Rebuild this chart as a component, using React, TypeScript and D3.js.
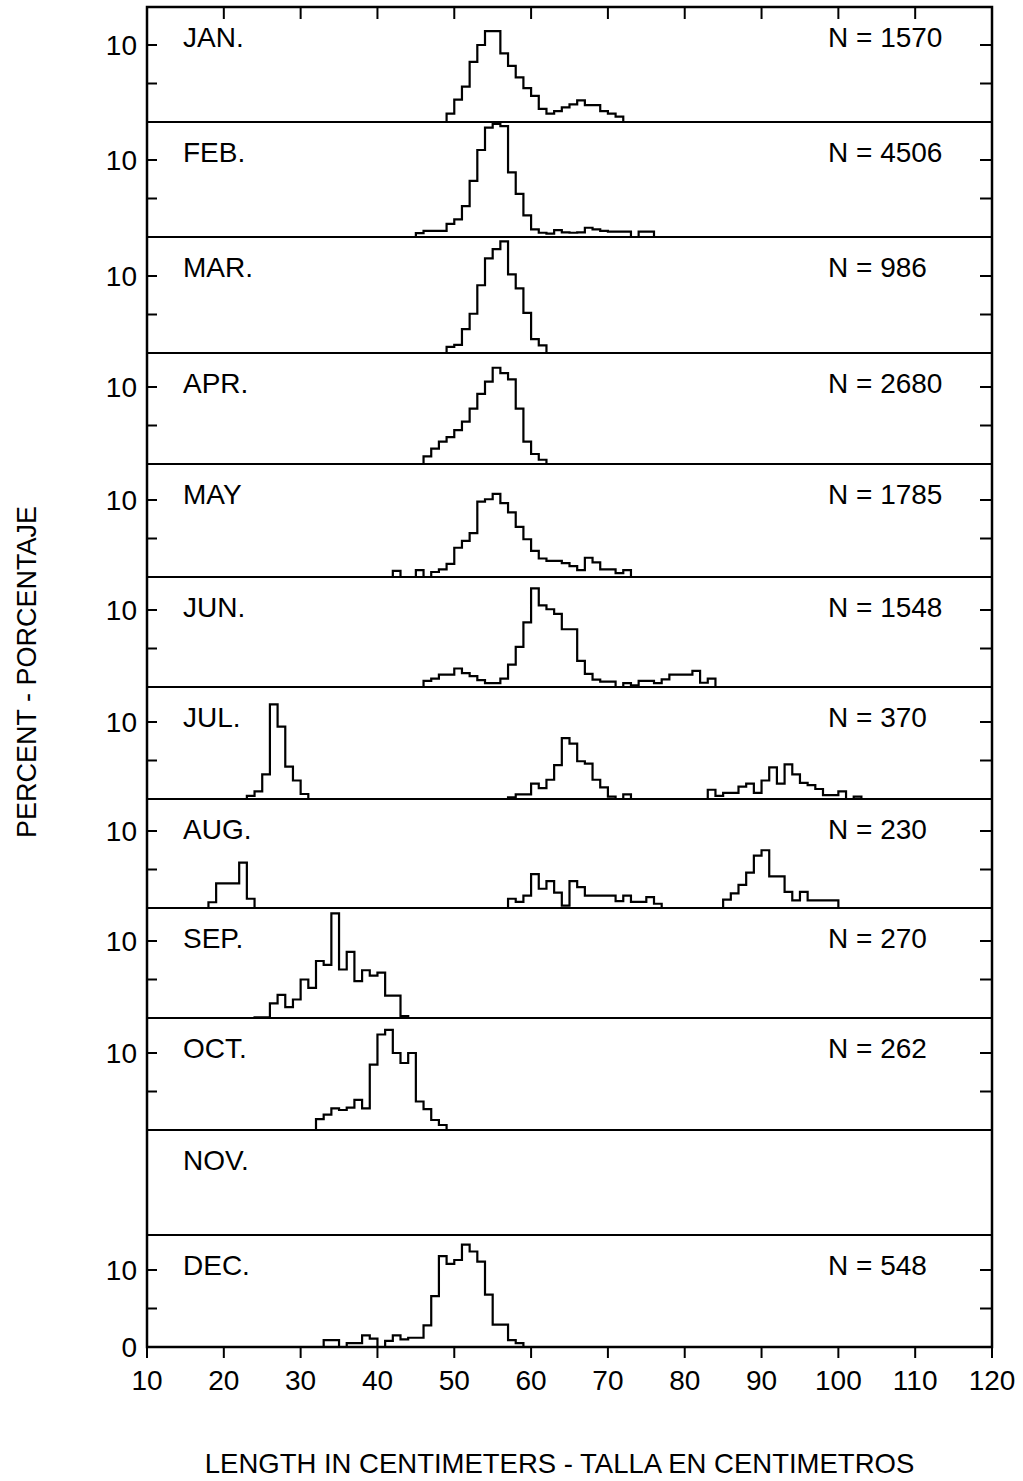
import React from 'react';
import * as d3 from 'd3';

// monthly length-frequency histograms, percent per 1 cm class
const MONTHS = ['JAN.', 'FEB.', 'MAR.', 'APR.', 'MAY', 'JUN.', 'JUL.', 'AUG.', 'SEP.', 'OCT.', 'NOV.', 'DEC.'];
const SAMPLE_SIZES = [1570, 4506, 986, 2680, 1785, 1548, 370, 230, 270, 262, null, 548];

const JAN = [
  { start: 49, pct: [1.1, 2.9, 4.6, 7.8, 10.0, 11.8, 11.8, 8.9, 7.3, 5.8, 4.4, 3.4, 1.7, 1.1, 1.4, 1.9, 2.3, 2.8, 2.2, 2.2, 1.4, 1.1, 0.7] },
];
const FEB = [
  { start: 45, pct: [0.5, 0.8, 0.8, 0.8, 1.7, 2.3, 4.0, 7.3, 11.3, 14.2, 14.7, 14.4, 8.4, 5.6, 2.8, 1.0, 0.55, 0.45, 0.9, 0.6, 0.55, 0.6, 1.2, 1.0, 0.8, 0.7, 0.7, 0.7, 0, 0.7, 0.7] },
];
const MAR = [
  { start: 49, pct: [0.8, 1.05, 3.1, 5.1, 8.8, 12.3, 13.5, 14.5, 10.2, 8.4, 5.2, 1.8, 1.0] },
];
const APR = [
  { start: 46, pct: [1.0, 2.0, 2.9, 3.5, 4.4, 5.5, 7.2, 9.1, 10.7, 12.5, 11.8, 11.0, 7.2, 2.9, 1.3, 0.55] },
];
const MAY = [
  { start: 42, pct: [0.8, 0, 0, 0.9, 0, 0.65, 1.0, 1.7, 3.8, 4.7, 5.7, 9.8, 10.1, 10.8, 9.6, 8.4, 6.5, 4.9, 3.4, 2.4, 2.1, 2.1, 1.8, 1.4, 0.9, 2.5, 1.9, 1.0, 1.0, 0.5, 0.9] },
];
const JUN = [
  { start: 46, pct: [0.8, 1.1, 1.6, 1.6, 2.4, 1.8, 1.4, 0.9, 0.5, 0.5, 1.1, 2.9, 5.2, 8.4, 12.8, 10.6, 10.1, 9.5, 7.5, 7.5, 3.4, 1.7, 0.95, 0.7, 0.7, 0, 0.5, 0.2, 0.8, 0.8, 0.5, 1.0, 1.6, 1.6, 1.6, 2.1, 0.55, 1.1] },
];
const JUL = [
  { start: 23, pct: [0.4, 1.0, 3.2, 12.3, 9.4, 4.2, 2.4, 0.65] },
  { start: 57, pct: [0.2, 0.6, 0.6, 2.0, 1.4, 2.5, 4.4, 7.9, 7.2, 4.9, 4.6, 2.5, 1.5, 0.3, 0, 0.6] },
  { start: 83, pct: [1.2, 0.4, 0.8, 0.8, 1.6, 2.0, 0.8, 2.4, 4.1, 2.0, 4.5, 3.2, 2.1, 1.8, 1.3, 0.5, 0.5, 1.0, 0, 0.3] },
];
const AUG = [
  { start: 18, pct: [0.75, 3.2, 3.2, 3.2, 5.9, 1.2] },
  { start: 57, pct: [1.2, 0.8, 1.6, 4.4, 2.5, 3.5, 2.0, 0.3, 3.5, 2.7, 1.6, 1.6, 1.6, 1.6, 0.9, 1.6, 0.8, 0.8, 1.4, 0.55] },
  { start: 85, pct: [1.1, 1.9, 3.0, 4.6, 6.8, 7.5, 4.1, 4.1, 2.1, 1.0, 2.1, 1.0, 1.0, 1.0, 1.0] },
];
const SEP = [
  { start: 24, pct: [0.1, 0.1, 1.9, 3.0, 1.4, 2.4, 5.0, 3.9, 7.4, 6.9, 13.6, 6.3, 8.6, 4.8, 6.2, 5.5, 5.9, 2.9, 2.9, 0.25] },
];
const OCT = [
  { start: 32, pct: [1.4, 2.0, 2.8, 2.6, 2.9, 3.9, 2.8, 8.5, 12.4, 13.0, 10.0, 8.7, 10.0, 3.7, 2.7, 1.3, 0.65] },
];
const NOV: { start: number; pct: number[] }[] = [];
const DEC = [
  { start: 33, pct: [0.9, 0.9, 0, 0.5, 0.5, 1.5, 1.1, 0, 0.8, 1.5, 1.0, 1.2, 1.2, 2.8, 6.6, 11.8, 10.8, 11.3, 13.3, 12.4, 11.1, 6.8, 2.9, 2.9, 0.9, 0.5] },
];

const SERIES = [JAN, FEB, MAR, APR, MAY, JUN, JUL, AUG, SEP, OCT, NOV, DEC];

const X_TICKS = [10, 20, 30, 40, 50, 60, 70, 80, 90, 100, 110, 120];
const Y_TICKS = [5, 10];

const X_TITLE = 'LENGTH IN CENTIMETERS - TALLA EN CENTIMETROS';
const Y_TITLE = 'PERCENT - PORCENTAJE';

// layout
const W = 1023;
const H = 1481;
const LEFT = 147;
const RIGHT = 992;
const PANEL_EDGES = [7, 122, 237, 353, 464, 577, 687, 799, 908, 1018, 1130, 1235, 1347];
const PX_PER_TEN = 77;
const FONT = "'Liberation Sans', Arial, Helvetica, sans-serif";

const App = () => {
  const x = d3.scaleLinear().domain([10, 120]).range([LEFT, RIGHT]);
  const top = PANEL_EDGES[0];
  const bottom = PANEL_EDGES[PANEL_EDGES.length - 1];

  return (
    <svg
      width={W}
      height={H}
      style={{ position: 'absolute', left: 0, top: 0, background: '#fff' }}
      fontFamily={FONT}
    >
      <rect width={W} height={H} fill="#fff" />

      {MONTHS.map((m, i) => {
        const pTop = PANEL_EDGES[i];
        const pBot = PANEL_EDGES[i + 1];
        const y = d3.scaleLinear().domain([0, 10]).range([pBot, pBot - PX_PER_TEN]);
        const line = d3
          .line<[number, number]>()
          .x((d) => x(d[0]))
          .y((d) => y(d[1]));
        const hasData = SERIES[i].length > 0;

        return (
          <g key={m}>
            {SERIES[i].map((seg, k) => {
              const pts: [number, number][] = [[seg.start, 0]];
              seg.pct.forEach((v, j) => {
                pts.push([seg.start + j, v]);
                pts.push([seg.start + j + 1, v]);
              });
              pts.push([seg.start + seg.pct.length, 0]);
              return (
                <path
                  key={k}
                  d={line(pts) || ''}
                  fill="none"
                  stroke="#000"
                  strokeWidth={2.2}
                  strokeLinejoin="miter"
                />
              );
            })}

            {hasData &&
              Y_TICKS.map((t) => (
                <g key={t}>
                  <line x1={LEFT} x2={LEFT + 10} y1={y(t)} y2={y(t)} stroke="#000" strokeWidth={2} />
                  <line x1={RIGHT - 12} x2={RIGHT} y1={y(t)} y2={y(t)} stroke="#000" strokeWidth={2} />
                </g>
              ))}
            {hasData && (
              <text x={LEFT - 10} y={y(10)} dy="0.35em" textAnchor="end" fontSize={28}>
                10
              </text>
            )}
            {i === MONTHS.length - 1 && (
              <text x={LEFT - 10} y={y(0)} dy="0.35em" textAnchor="end" fontSize={28}>
                0
              </text>
            )}

            <text x={183} y={pTop + 40} fontSize={28}>
              {m}
            </text>
            {SAMPLE_SIZES[i] != null && (
              <text x={828} y={pTop + 40} fontSize={28}>
                {`N = ${SAMPLE_SIZES[i]}`}
              </text>
            )}

            {i > 0 && <line x1={LEFT} x2={RIGHT} y1={pTop} y2={pTop} stroke="#000" strokeWidth={2.2} />}
          </g>
        );
      })}

      {/* frame */}
      <rect
        x={LEFT}
        y={top}
        width={RIGHT - LEFT}
        height={bottom - top}
        fill="none"
        stroke="#000"
        strokeWidth={2.5}
      />

      {/* top ticks (inside) and bottom axis (ticks outside) */}
      {X_TICKS.map((t) => (
        <g key={t}>
          {t > 10 && t < 120 && (
            <line x1={x(t)} x2={x(t)} y1={top} y2={top + 12} stroke="#000" strokeWidth={2} />
          )}
          <line x1={x(t)} x2={x(t)} y1={bottom} y2={bottom + 11} stroke="#000" strokeWidth={2} />
          <text x={x(t)} y={bottom + 43} textAnchor="middle" fontSize={28}>
            {t}
          </text>
        </g>
      ))}

      <text x={(LEFT + RIGHT) / 2 - 10} y={1473} textAnchor="middle" fontSize={27.5}>
        {X_TITLE}
      </text>
      <text transform={`translate(36, 672) rotate(-90)`} textAnchor="middle" fontSize={27}>
        {Y_TITLE}
      </text>
    </svg>
  );
};

export default App;
